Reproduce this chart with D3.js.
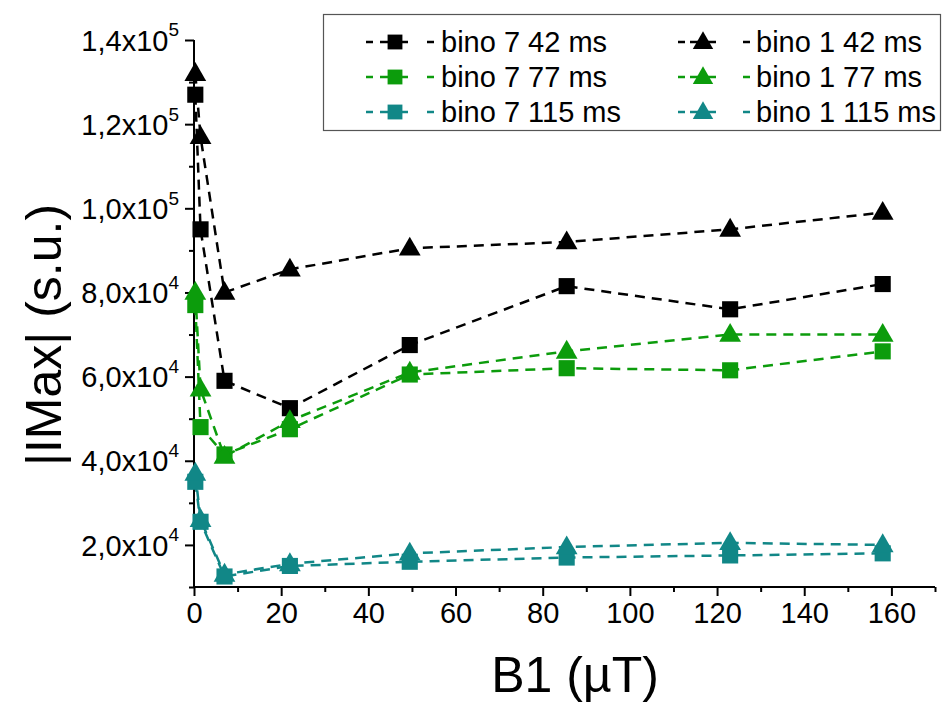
<!DOCTYPE html>
<html>
<head>
<meta charset="utf-8">
<script src="https://cdn.jsdelivr.net/npm/d3@7"></script>
<style>
  body { margin: 0; background: #fff; }
  svg { display: block; font-family: "Liberation Sans", Arial, sans-serif; }
</style>
</head>
<body>
<svg id="chart" width="943" height="702"></svg>
<script>
// ---- data ----
const b1 = [0.3, 1.5, 7, 22, 49.5, 85.5, 123, 158];
const bino7_42  = [127000, 95000, 59000, 52500, 67500, 81500, 76000, 82000];
const bino7_77  = [77000, 48000, 41500, 47500, 60500, 62000, 61500, 66000];
const bino7_115 = [35000, 25500, 12500, 15000, 16000, 17000, 17500, 18000];
const bino1_42  = [132000, 117000, 80000, 85500, 90500, 92000, 95000, 99000];
const bino1_77  = [80000, 57000, 41000, 49500, 61000, 66000, 70000, 70000];
const bino1_115 = [37000, 26000, 13000, 15500, 18000, 19500, 20500, 20000];
const seriesNames = ["bino 7 42 ms", "bino 7 77 ms", "bino 7 115 ms", "bino 1 42 ms", "bino 1 77 ms", "bino 1 115 ms"];
const seriesValues = [bino7_42, bino7_77, bino7_115, bino1_42, bino1_77, bino1_115];
const seriesColors = ["#000000", "#0c9c0c", "#118787", "#000000", "#0c9c0c", "#118787"];
const seriesShapes = ["square", "square", "square", "triangle", "triangle", "triangle"];
const xTicks = [0, 20, 40, 60, 80, 100, 120, 140, 160];
const xMinorTicks = [10, 30, 50, 70, 90, 110, 130, 150, 170];
const yTicks = [20000, 40000, 60000, 80000, 100000, 120000, 140000];
const yMinorTicks = [10000, 30000, 50000, 70000, 90000, 110000, 130000];
const xTitle = "B1 (µT)";
const yTitle = "|IMax| (s.u.)";

// ---- layout ----
const svg = d3.select("#chart");
const x = d3.scaleLinear().domain([0, 170]).range([194, 935]);
const y = d3.scaleLinear().domain([10000, 140000]).range([587, 40]);

// axes
const gx = svg.append("g").attr("transform", `translate(0,${y(10000)})`);
gx.call(d3.axisBottom(x).tickValues(xTicks).tickSize(9).tickPadding(6).tickFormat(d3.format("d")));
const gxm = svg.append("g").attr("transform", `translate(0,${y(10000)})`);
gxm.call(d3.axisBottom(x).tickValues(xMinorTicks).tickSize(5).tickFormat(""));
const gy = svg.append("g").attr("transform", `translate(${x(0)},0)`);
gy.call(d3.axisLeft(y).tickValues(yTicks).tickSize(9).tickPadding(8).tickFormat(""));
const gym = svg.append("g").attr("transform", `translate(${x(0)},0)`);
gym.call(d3.axisLeft(y).tickValues(yMinorTicks).tickSize(5).tickFormat(""));

[gx, gxm, gy, gym].forEach(g => {
  g.selectAll("path.domain").attr("stroke", "#000").attr("stroke-width", 2);
  g.selectAll("line").attr("stroke", "#000").attr("stroke-width", 2);
});
gxm.select("path.domain").remove();
gym.select("path.domain").remove();
gx.select("path.domain").attr("d", `M${x(0)},0H${x(170)}`);
gy.select("path.domain").attr("d", `M0,${y(10000)}V${y(140000)}`);

gx.selectAll("text")
  .attr("font-size", 29).attr("fill", "#000")
  .attr("font-family", "Liberation Sans, Arial, sans-serif");

// y tick labels with superscript
gy.selectAll(".tick").each(function(d) {
  const e = Math.floor(Math.log10(d));
  const m = (d / Math.pow(10, e)).toFixed(1).replace(".", ",");
  const t = d3.select(this).select("text")
    .attr("x", -15).attr("dy", "0.35em")
    .attr("font-size", 29).attr("fill", "#000")
    .attr("text-anchor", "end")
    .attr("font-family", "Liberation Sans, Arial, sans-serif");
  t.text(null);
  t.append("tspan").text(m + "x10");
  t.append("tspan").attr("font-size", 19).attr("dy", "-0.75em").text(String(e));
});

// axis titles
svg.append("text")
  .attr("x", 575).attr("y", 692)
  .attr("text-anchor", "middle")
  .attr("font-size", 50).attr("fill", "#000")
  .text(xTitle);
svg.append("text")
  .attr("transform", `translate(61,${335}) rotate(-90)`)
  .attr("text-anchor", "middle")
  .attr("font-size", 50).attr("fill", "#000")
  .text(yTitle);

// ---- series ----
const line = d3.line().x(d => x(d[0])).y(d => y(d[1]));
const sq = d3.symbol().type(d3.symbolSquare).size(260);
const tri = d3.symbol().type(d3.symbolTriangle).size(205);

const plot = svg.append("g");
const order = [0, 1, 2, 3, 4, 5];
order.forEach(i => {
  const pts = b1.map((v, k) => [v, seriesValues[i][k]]);
  plot.append("path")
    .attr("d", line(pts))
    .attr("fill", "none")
    .attr("stroke", seriesColors[i])
    .attr("stroke-width", 2.5)
    .attr("stroke-dasharray", "10,7");
});
order.forEach(i => {
  const pts = b1.map((v, k) => [v, seriesValues[i][k]]);
  plot.selectAll(null).data(pts).enter().append("path")
    .attr("d", seriesShapes[i] === "square" ? sq() : tri())
    .attr("transform", d => `translate(${x(d[0])},${y(d[1]) + (seriesShapes[i] === "triangle" ? 1 : 0)})`)
    .attr("fill", seriesColors[i]);
});

// ---- legend ----
const lg = svg.append("g");
lg.append("rect")
  .attr("x", 323.5).attr("y", 14.5).attr("width", 617).attr("height", 116)
  .attr("fill", "#fff").attr("stroke", "#555").attr("stroke-width", 1.2);
const colX = [364, 678];
const rowY = [42, 77, 112];
const sampleSegs = ["M2,0h7M16,0h28M63,0h7", "M0,0h7M12,0h26M65,0h7"];
const markerX = [31, 25];
const textX = [77, 78];
seriesNames.forEach((name, i) => {
  const c = Math.floor(i / 3), r = i % 3;
  const g = lg.append("g").attr("transform", `translate(${colX[c]},${rowY[r]})`);
  g.append("path")
    .attr("d", sampleSegs[c])
    .attr("stroke", seriesColors[i]).attr("stroke-width", 2.5);
  g.append("path")
    .attr("d", seriesShapes[i] === "square" ? d3.symbol().type(d3.symbolSquare).size(220)() : d3.symbol().type(d3.symbolTriangle).size(180)())
    .attr("transform", `translate(${markerX[c]},${seriesShapes[i] === "triangle" ? 1 : 0})`)
    .attr("fill", seriesColors[i]);
  g.append("text")
    .attr("x", textX[c]).attr("dy", "0.36em")
    .attr("font-size", 29).attr("fill", "#000")
    .text(name);
});
</script>
</body>
</html>
